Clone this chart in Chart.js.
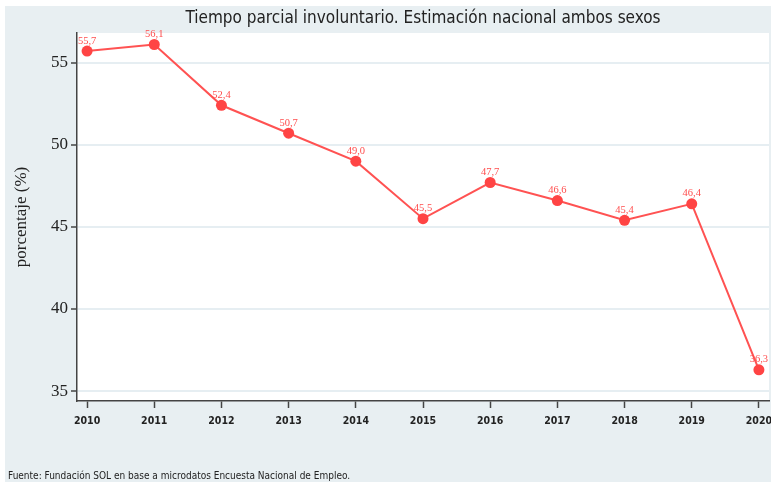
<!DOCTYPE html>
<html>
<head>
<meta charset="utf-8">
<script src="https://cdn.jsdelivr.net/npm/chart.js@4.4.1/dist/chart.umd.min.js"></script>
<style>
  body { margin: 0; background: #fff; }
  #wrap { position: absolute; left: 5px; top: 6px; width: 766px; height: 476px; }
</style>
</head>
<body>
<div id="wrap"><canvas id="chart"></canvas></div>
<script>
// datos
const years = [2010, 2011, 2012, 2013, 2014, 2015, 2016, 2017, 2018, 2019, 2020];
const values = [55.7, 56.1, 52.4, 50.7, 49.0, 45.5, 47.7, 46.6, 45.4, 46.4, 36.3];
const yTicks = [35, 40, 45, 50, 55];

const titleText = "Tiempo parcial involuntario. Estimación nacional ambos sexos";
const sourceText = "Fuente: Fundación SOL en base a microdatos Encuesta Nacional de Empleo.";
const narrow = "'Liberation Sans Narrow', 'DejaVu Sans Condensed', sans-serif";
const serif = "'Liberation Serif', 'DejaVu Serif', serif";

const decor = {
  id: "decor",
  beforeDraw(chart) {
    const { ctx, chartArea: a, width, height } = chart;
    ctx.save();
    ctx.fillStyle = "#e8eff2";
    ctx.fillRect(0, 0, width, height);
    ctx.fillStyle = "#ffffff";
    ctx.fillRect(a.left, a.top, a.right - a.left, a.bottom - a.top);
    ctx.restore();
  },
  afterDraw(chart) {
    const { ctx, chartArea: a } = chart;
    const xs = chart.scales.x;
    ctx.save();
    // titulo
    ctx.fillStyle = "#222";
    ctx.font = "17px " + narrow;
    ctx.textAlign = "center";
    ctx.textBaseline = "middle";
    ctx.fillText(titleText, (a.left + a.right) / 2, 13);
    // años del eje x (aparte, para que no empujen el área del gráfico)
    ctx.font = "bold 10.5px " + narrow;
    years.forEach(y => ctx.fillText(String(y), xs.getPixelForValue(y), a.bottom + 20));
    // titulo eje y
    ctx.save();
    ctx.translate(17, (a.top + a.bottom) / 2);
    ctx.rotate(-Math.PI / 2);
    ctx.font = "17px " + serif;
    ctx.fillText("porcentaje (%)", 0, 0);
    ctx.restore();
    // fuente
    ctx.font = "10px " + narrow;
    ctx.textAlign = "left";
    ctx.fillText(sourceText, 3, 470);
    // etiquetas de datos
    const meta = chart.getDatasetMeta(0);
    ctx.fillStyle = "#ff4d4d";
    ctx.font = "10.5px " + serif;
    ctx.textBaseline = "bottom";
    ctx.textAlign = "center";
    meta.data.forEach((p, i) => {
      ctx.fillText(values[i].toFixed(1).replace(".", ","), p.x, p.y - 5);
    });
    ctx.restore();
  }
};

new Chart(document.getElementById("chart"), {
  type: "line",
  data: {
    datasets: [{
      data: years.map((y, i) => ({ x: y, y: values[i] })),
      borderColor: "#ff5252",
      backgroundColor: "#ff4444",
      borderWidth: 2,
      pointRadius: 5.5,
      pointBorderWidth: 0,
      tension: 0
    }]
  },
  options: {
    responsive: true,
    maintainAspectRatio: false,
    animation: false,
    layout: { autoPadding: false, padding: { top: 27, right: 2, left: 0, bottom: 0 } },
    plugins: { legend: { display: false }, tooltip: { enabled: false } },
    scales: {
      x: {
        type: "linear",
        min: 2009.85,
        max: 2020.15,
        afterBuildTicks: (s) => { s.ticks = years.map(v => ({ value: v })); },
        afterFit: (s) => { s.height = 81; },
        grid: { drawOnChartArea: false, tickLength: 7, tickColor: "#444", tickWidth: 1.5 },
        border: { color: "#444", width: 1.5 },
        ticks: { display: false }
      },
      y: {
        min: 34.4,
        max: 56.8,
        afterBuildTicks: (s) => { s.ticks = yTicks.map(v => ({ value: v })); },
        afterFit: (s) => { s.width = 72; s.paddingTop = 0; s.paddingBottom = 0; },
        grid: { color: "#e6eef2", lineWidth: 2, tickLength: 6, tickColor: "#444", tickWidth: 1.5 },
        border: { color: "#444", width: 1.5 },
        ticks: { color: "#222", padding: 3, font: { family: serif, size: 17 } }
      }
    }
  },
  plugins: [decor]
});
</script>
</body>
</html>
